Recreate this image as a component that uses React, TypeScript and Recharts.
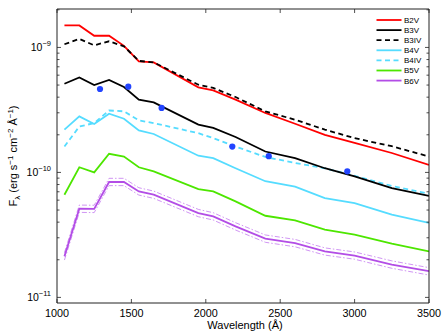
import React from 'react';
import { ComposedChart, Line, Scatter, XAxis, YAxis, Legend } from 'recharts';

// model SED sample points (Angstrom)
const wavelengths = [1050, 1150, 1250, 1350, 1450, 1550, 1650, 1950, 2050, 2200, 2400, 2600, 2800, 3000, 3250, 3500];

const b2v = [1.5e-9, 1.5e-9, 1.24e-9, 1.24e-9, 1.03e-9, 7.73e-10, 7.59e-10, 4.79e-10, 4.53e-10, 3.82e-10, 2.99e-10, 2.45e-10, 2.0e-10, 1.72e-10, 1.43e-10, 1.15e-10];
const b3v = [5.12e-10, 5.75e-10, 5.0e-10, 5.49e-10, 4.82e-10, 3.82e-10, 3.63e-10, 2.41e-10, 2.27e-10, 1.92e-10, 1.47e-10, 1.3e-10, 1.08e-10, 9.3e-11, 7.5e-11, 6.5e-11];
const b3iv = [1.06e-9, 1.17e-9, 1.04e-9, 1.12e-9, 1.02e-9, 7.8e-10, 7.6e-10, 5.03e-10, 4.74e-10, 4.01e-10, 3.08e-10, 2.64e-10, 2.2e-10, 1.88e-10, 1.62e-10, 1.34e-10];
const b4v = [2.2e-10, 2.81e-10, 2.44e-10, 2.95e-10, 2.69e-10, 2.17e-10, 2.03e-10, 1.36e-10, 1.3e-10, 1.08e-10, 8.5e-11, 7.7e-11, 6.24e-11, 5.69e-11, 4.59e-11, 3.94e-11];
const b4iv = [1.61e-10, 2.33e-10, 2.48e-10, 3.13e-10, 3.08e-10, 2.61e-10, 2.48e-10, 2.06e-10, 1.88e-10, 1.61e-10, 1.33e-10, 1.19e-10, 1.08e-10, 9.4e-11, 7.8e-11, 6.76e-11];
const b5v = [6.63e-11, 1.1e-10, 1.0e-10, 1.41e-10, 1.34e-10, 1.1e-10, 1.02e-10, 7.36e-11, 7.05e-11, 5.86e-11, 4.5e-11, 4.13e-11, 3.48e-11, 3.18e-11, 2.69e-11, 2.33e-11];
const b6v = [2.13e-11, 5.12e-11, 5.1e-11, 8.38e-11, 8.38e-11, 7.05e-11, 6.63e-11, 4.73e-11, 4.45e-11, 3.7e-11, 2.95e-11, 2.72e-11, 2.33e-11, 2.16e-11, 1.83e-11, 1.62e-11];
const b6vHigh = [2.28e-11, 5.48e-11, 5.46e-11, 8.97e-11, 8.97e-11, 7.54e-11, 7.09e-11, 5.06e-11, 4.76e-11, 3.96e-11, 3.16e-11, 2.91e-11, 2.49e-11, 2.31e-11, 1.96e-11, 1.73e-11];
const b6vLow = [1.99e-11, 4.79e-11, 4.77e-11, 7.84e-11, 7.84e-11, 6.59e-11, 6.2e-11, 4.42e-11, 4.16e-11, 3.46e-11, 2.76e-11, 2.54e-11, 2.18e-11, 2.02e-11, 1.71e-11, 1.51e-11];

// observed fluxes (blue dots)
const obsWavelengths = [1289, 1479, 1703, 2178, 2423, 2951];
const obsFlux = [4.65e-10, 4.85e-10, 3.28e-10, 1.61e-10, 1.35e-10, 1.02e-10];

const xTicks = [1000, 1500, 2000, 2500, 3000, 3500];
const yDomain: [number, number] = [9.02e-12, 2.03e-9];
const yTicks: number[] = [];
for (let e = -12; e <= -9; e++) {
  for (let m = 1; m <= 9; m++) {
    const v = m * Math.pow(10, e);
    if (v >= yDomain[0] && v <= yDomain[1]) yTicks.push(v);
  }
}

const rows = wavelengths.map((wl, i) => ({
  wl,
  b2v: b2v[i],
  b3v: b3v[i],
  b3iv: b3iv[i],
  b4v: b4v[i],
  b4iv: b4iv[i],
  b5v: b5v[i],
  b6v: b6v[i],
  b6vHigh: b6vHigh[i],
  b6vLow: b6vLow[i],
}));
const obs = obsWavelengths.map((wl, i) => ({ wl, flux: obsFlux[i] }));

const CYAN = '#55dcff';
const GREEN = '#4de600';
const PURPLE = '#b34de6';

const legendItems = [
  { name: 'B2V', color: '#ff0000', dash: undefined },
  { name: 'B3V', color: '#000000', dash: undefined },
  { name: 'B3IV', color: '#000000', dash: '5 3.5' },
  { name: 'B4V', color: CYAN, dash: undefined },
  { name: 'B4IV', color: CYAN, dash: '5 3.5' },
  { name: 'B5V', color: GREEN, dash: undefined },
  { name: 'B6V', color: PURPLE, dash: undefined },
];

const AX = '#222';
const FONT = '"Liberation Sans", Arial, sans-serif';

const isMajor = (v: number) => {
  const e = Math.round(Math.log10(v));
  return Math.abs(v / Math.pow(10, e) - 1) < 1e-6;
};

const LeftTick = (props: any) => {
  const { x, y, payload } = props;
  const v = payload.value;
  const major = isMajor(v);
  const ax = x + 6;
  const exp = Math.round(Math.log10(v));
  return (
    <g>
      <line x1={ax} x2={ax + (major ? 4 : 2.5)} y1={y} y2={y} stroke={AX} strokeWidth={0.8} />
      {major && (
        <text x={x} y={y + 3.8} textAnchor="end" fontSize={10.5} fill="#000" fontFamily={FONT}>
          10<tspan dy={-5} fontSize={7.5}>−{-exp}</tspan>
        </text>
      )}
    </g>
  );
};

const RightTick = (props: any) => {
  const { x, y, payload } = props;
  const major = isMajor(payload.value);
  return <line x1={x} x2={x - (major ? 4 : 2.5)} y1={y} y2={y} stroke={AX} strokeWidth={0.8} />;
};

const BottomTick = (props: any) => {
  const { x, y, payload } = props;
  return (
    <g>
      <line x1={x} x2={x} y1={y} y2={y - 4} stroke={AX} strokeWidth={0.8} />
      <text x={x} y={y + 13.5} textAnchor="middle" fontSize={10.8} fill="#000" fontFamily={FONT}>
        {payload.value}
      </text>
    </g>
  );
};

const TopTick = (props: any) => {
  const { x, y } = props;
  return <line x1={x} x2={x} y1={y} y2={y + 4} stroke={AX} strokeWidth={0.8} />;
};

const XLabel = (props: any) => {
  const vb = props.viewBox;
  return (
    <text x={vb.x + vb.width / 2 + 2} y={vb.y + 26} textAnchor="middle" fontSize={11} fill="#000" fontFamily={FONT}>
      Wavelength (Å)
    </text>
  );
};

const YLabel = (props: any) => {
  const vb = props.viewBox;
  const cx = vb.x + 17;
  const cy = vb.y + vb.height / 2;
  return (
    <text x={cx} y={cy} transform={`rotate(-90, ${cx}, ${cy})`} textAnchor="middle" fontSize={11} fill="#000" fontFamily={FONT}>
      F<tspan dy={2.5} fontSize={8}>λ</tspan>
      <tspan dy={-2.5}> (erg s</tspan>
      <tspan dy={-4} fontSize={8}>−1</tspan>
      <tspan dy={4}> cm</tspan>
      <tspan dy={-4} fontSize={8}>−2</tspan>
      <tspan dy={4}> Å</tspan>
      <tspan dy={-4} fontSize={8}>−1</tspan>
      <tspan dy={4}>)</tspan>
    </text>
  );
};

const LegendBox = () => (
  <svg width={70} height={80} style={{ display: 'block' }}>
    {legendItems.map((it, i) => {
      const y = 6 + i * 10.1;
      return (
        <g key={it.name}>
          <line x1={2.5} x2={27.5} y1={y} y2={y} stroke={it.color} strokeWidth={1.8} strokeDasharray={it.dash} />
          <text x={30} y={y + 2.9} fontSize={8} fill="#000" fontFamily={FONT}>
            {it.name}
          </text>
        </g>
      );
    })}
  </svg>
);

const Dot = (props: any) => <circle cx={props.cx} cy={props.cy} r={3.1} fill="#2244ff" />;

export default function App() {
  const band = { stroke: '#c47af0', strokeWidth: 0.8, strokeDasharray: '5 2 1.5 2' };
  return (
    <div style={{ position: 'absolute', left: 0, top: 0, width: 445, height: 334, background: '#fff' }}>
      <ComposedChart width={445} height={334} data={rows} margin={{ top: 8, right: 15, bottom: 0, left: 0 }} style={{ fontFamily: FONT }}>
        <XAxis
          xAxisId="bottom"
          dataKey="wl"
          type="number"
          domain={[1000, 3500]}
          ticks={xTicks}
          allowDataOverflow
          height={31}
          tickSize={0}
          tickMargin={0}
          tick={<BottomTick />}
          axisLine={{ stroke: AX }}
          interval={0}
          label={<XLabel />}
        />
        <XAxis
          xAxisId="top"
          orientation="top"
          dataKey="wl"
          type="number"
          domain={[1000, 3500]}
          ticks={xTicks}
          allowDataOverflow
          height={1}
          tickSize={0}
          tickMargin={0}
          tick={<TopTick />}
          axisLine={{ stroke: AX }}
          interval={0}
        />
        <YAxis
          yAxisId="left"
          scale="log"
          type="number"
          domain={yDomain}
          ticks={yTicks}
          allowDataOverflow
          width={57}
          tickSize={0}
          tickMargin={6}
          tick={<LeftTick />}
          axisLine={{ stroke: AX }}
          interval={0}
          label={<YLabel />}
        />
        <YAxis
          yAxisId="right"
          orientation="right"
          scale="log"
          type="number"
          domain={yDomain}
          ticks={yTicks}
          allowDataOverflow
          width={1}
          tickSize={0}
          tickMargin={0}
          tick={<RightTick />}
          axisLine={{ stroke: AX }}
          interval={0}
        />
        <Legend
          layout="vertical"
          align="center"
          verticalAlign="middle"
          wrapperStyle={{ left: 374, top: 14, width: 70, height: 80 }}
          content={() => <LegendBox />}
        />
        {/* invisible series so the top/right frame axes get drawn */}
        <Line xAxisId="top" yAxisId="right" dataKey="b2v" stroke="none" dot={false} activeDot={false} isAnimationActive={false} legendType="none" />
        <Line xAxisId="bottom" yAxisId="left" dataKey="b6vHigh" {...band} dot={false} activeDot={false} isAnimationActive={false} legendType="none" />
        <Line xAxisId="bottom" yAxisId="left" dataKey="b6vLow" {...band} dot={false} activeDot={false} isAnimationActive={false} legendType="none" />
        <Line xAxisId="bottom" yAxisId="left" dataKey="b6v" name="B6V" stroke={PURPLE} strokeWidth={1.8} dot={false} activeDot={false} isAnimationActive={false} />
        <Line xAxisId="bottom" yAxisId="left" dataKey="b5v" name="B5V" stroke={GREEN} strokeWidth={1.8} dot={false} activeDot={false} isAnimationActive={false} />
        <Line xAxisId="bottom" yAxisId="left" dataKey="b4v" name="B4V" stroke={CYAN} strokeWidth={1.8} dot={false} activeDot={false} isAnimationActive={false} />
        <Line xAxisId="bottom" yAxisId="left" dataKey="b4iv" name="B4IV" stroke={CYAN} strokeWidth={1.8} strokeDasharray="5 3.5" dot={false} activeDot={false} isAnimationActive={false} />
        <Line xAxisId="bottom" yAxisId="left" dataKey="b3v" name="B3V" stroke="#000" strokeWidth={1.8} dot={false} activeDot={false} isAnimationActive={false} />
        <Line xAxisId="bottom" yAxisId="left" dataKey="b2v" name="B2V" stroke="#ff0000" strokeWidth={1.8} dot={false} activeDot={false} isAnimationActive={false} />
        <Line xAxisId="bottom" yAxisId="left" dataKey="b3iv" name="B3IV" stroke="#000" strokeWidth={1.8} strokeDasharray="5 3.5" dot={false} activeDot={false} isAnimationActive={false} />
        <Scatter xAxisId="bottom" yAxisId="left" data={obs} dataKey="flux" shape={<Dot />} isAnimationActive={false} legendType="none" />
      </ComposedChart>
    </div>
  );
}
